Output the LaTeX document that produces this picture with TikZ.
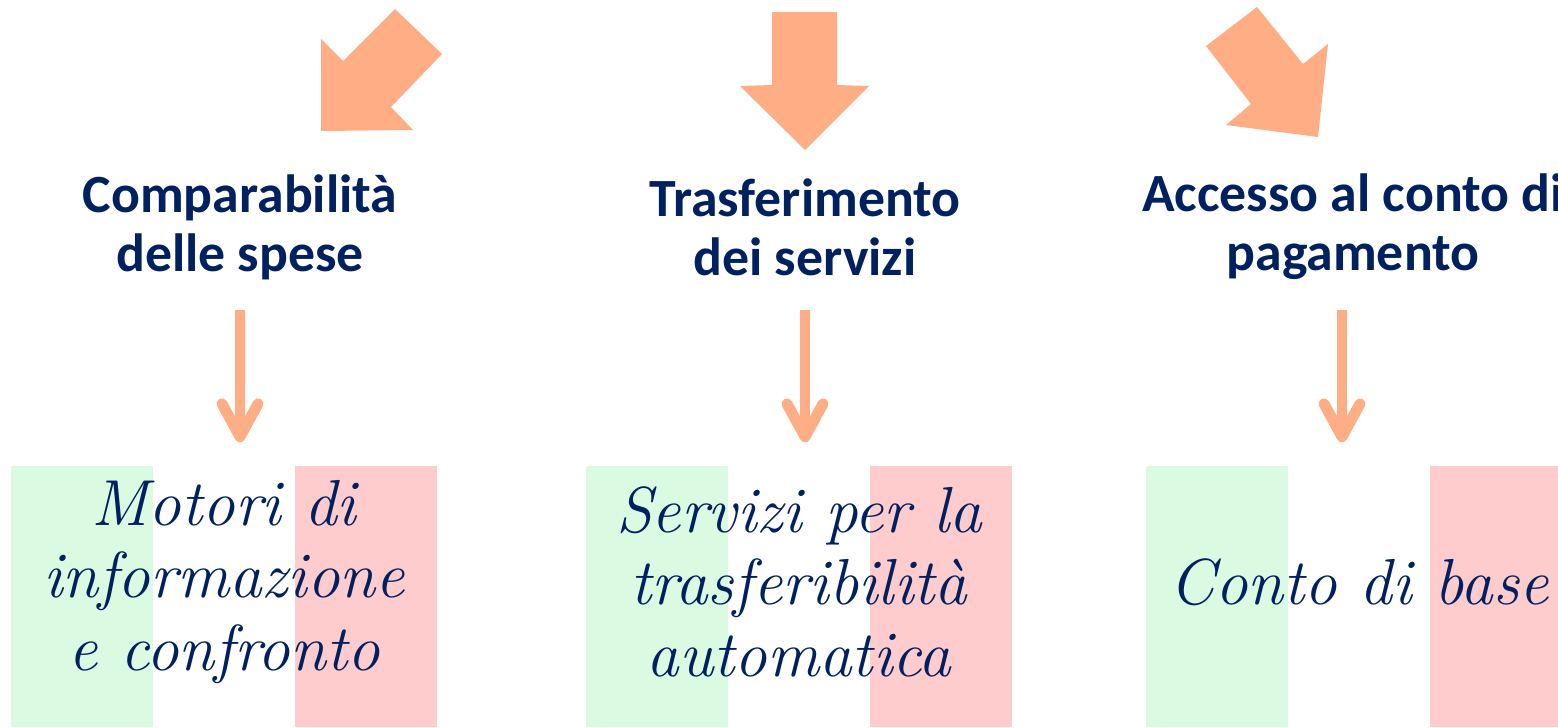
\documentclass[tikz,border=0pt]{standalone}
\usepackage{fontspec}
\usepackage{tikz}
\usetikzlibrary{positioning, arrows.meta}
\newfontfamily\titlefont{Carlito}
\definecolor{salmone}{RGB}{255,173,133}
\definecolor{blu}{RGB}{0,32,96}
\definecolor{verde}{RGB}{218,250,226}
\definecolor{rosso}{RGB}{254,204,204}

\begin{document}
\begin{tikzpicture}[x=0.01cm,y=-0.01cm,
    titolo/.style={align=center,text=blu,inner sep=0pt,font=\titlefont\bfseries\fontsize{15.3}{16.8}\selectfont},
    bandiera/.style={minimum width=4.26cm,minimum height=2.9cm,inner sep=0pt,align=center,text=blu,
        font=\itshape\fontsize{18.5}{20.5}\selectfont,
        path picture={
            \fill[verde] (path picture bounding box.south west) rectangle ([xshift=1.42cm,yshift=-0.29cm]path picture bounding box.north west);
            \fill[rosso] ([xshift=-1.42cm]path picture bounding box.south east) rectangle ([yshift=-0.29cm]path picture bounding box.north east);
        }},
    freccia/.style={salmone,line width=3.1pt,-{Straight Barb[length=3.3mm,width=3.6mm,round]},shorten <=3mm,shorten >=-0.6mm}]
    \useasboundingbox (0,0) rectangle (1558,727);
    % frecce grandi
    \fill[salmone] (321,39) -- (343,61) -- (395,9) -- (442,54) -- (391,107) -- (413,130) -- (321,131) -- cycle;
    \fill[salmone] (772,12) -- (837,12) -- (837,85) -- (869,86) -- (805,150) -- (740,86) -- (772,85) -- cycle;
    \fill[salmone] (1257,7) -- (1206,46) -- (1251,104) -- (1226,125) -- (1318,137) -- (1328,44) -- (1303,64) -- cycle;
    % titoli
    \node[titolo] (t1) at (240,227) {Comparabilità\\delle spese};
    \node[titolo] (t2) at (805,227) {Trasferimento\\dei servizi};
    \node[titolo] (t3) at (1353,227) {Accesso al conto di\\pagamento};
    % riquadri
    \node[bandiera] (b1) at (224,582) {Motori di\\informazione\\e confronto};
    \node[bandiera] (b2) at (799,582) {Servizi per la\\trasferibilità\\automatica};
    \node[bandiera] (b3) at (1359,582) {Conto di base};
    \draw[freccia] (t1.south) -- (t1 |- b1.north);
    \draw[freccia] (t2 |- t1.south) -- (t2 |- b2.north);
    \draw[freccia] ([xshift=-1.1mm]t3 |- t1.south) -- ([xshift=-1.1mm]t3 |- b3.north);
\end{tikzpicture}
\end{document}
